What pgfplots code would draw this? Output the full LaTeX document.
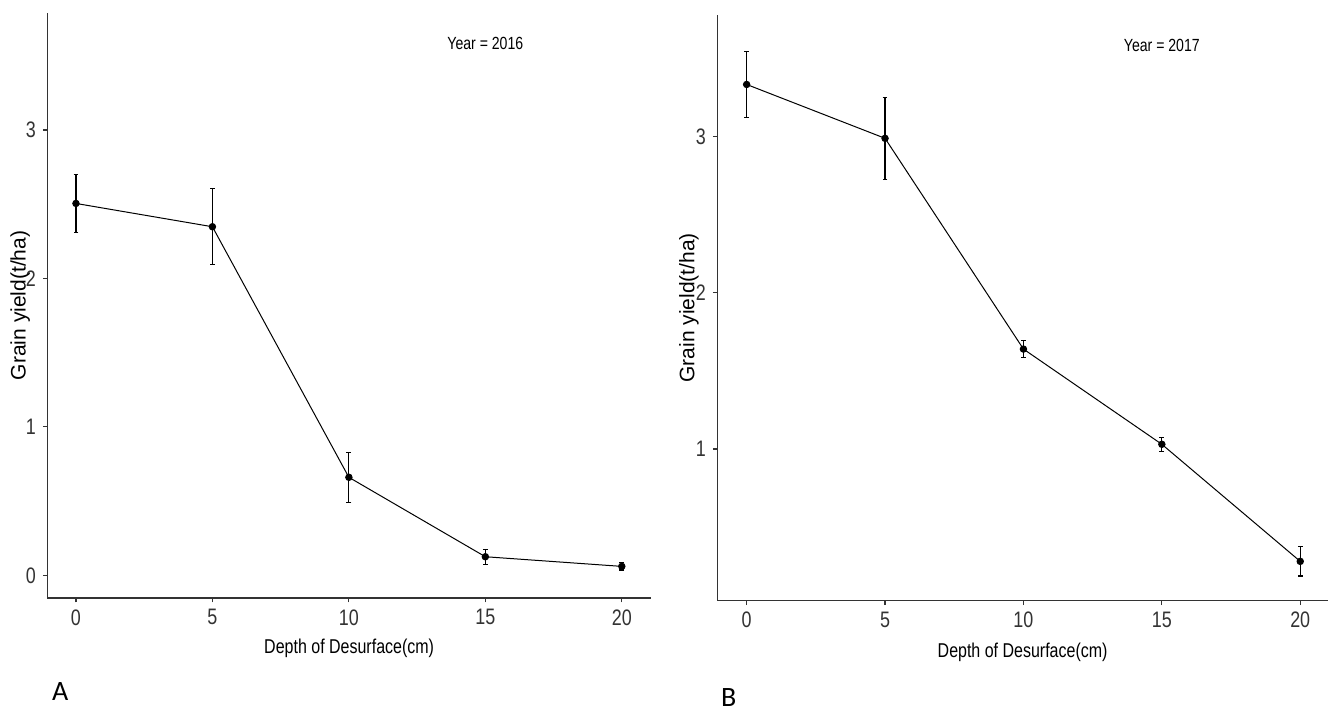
\documentclass[border=0pt]{standalone}
\usepackage{fontspec}
\setmainfont{Liberation Sans}
\newfontfamily\narrowfont[FakeStretch=0.8]{Liberation Sans}
\newfontfamily\panelfont{Carlito}
\usepackage{pgfplots}
\usepackage{pgfplotstable}
\pgfplotsset{compat=1.18}
\definecolor{axgray}{HTML}{333333}
\definecolor{tickgray}{HTML}{333333}

\pgfplotstableread{
x y e
0 2.505 0.197
5 2.348 0.256
10 0.660 0.167
15 0.125 0.050
20 0.060 0.025
}\dataA

\pgfplotstableread{
x y e
0 3.335 0.213
5 2.990 0.262
10 1.640 0.053
15 1.030 0.045
20 0.280 0.094
}\dataB

\pgfplotsset{
  ggstyle/.style={
    scale only axis,
    anchor=south west,
    axis x line*=bottom,
    axis y line*=left,
    axis line style={axgray, line width=0.75pt},
    tick style={axgray, line width=0.6pt},
    tick align=outside,
    major tick length=2.2pt,
    xtick={0,5,10,15,20},
    ytick={0,1,2,3},
    /pgf/number format/assume math mode=true,
    ticklabel style={font=\narrowfont\fontsize{11.2}{11.2}\selectfont, text=tickgray},
    xlabel={Depth of Desurface(cm)},
    ylabel={Grain yield(t/ha)},
    xlabel style={font=\narrowfont\fontsize{10}{10}\selectfont, anchor=center},
    ylabel style={font=\fontsize{10.5}{10.5}\selectfont, anchor=center},
    clip=false,
  },
  ggplot/.style={
    black, line width=0.5pt, mark=*, mark size=1.6pt,
    mark options={solid, fill=black},
    error bars/.cd, y dir=both, y explicit,
    error bar style={line width=0.6pt, black},
    error mark options={rotate=90, mark size=1.2pt, line width=0.6pt, black},
  },
}

\begin{document}
\begin{tikzpicture}
\path[use as bounding box] (0,0) rectangle (665.5pt,356.5pt);

% Panel A
\begin{axis}[ggstyle,
  at={(23.65pt,57.5pt)}, width=301.85pt, height=292.65pt,
  xmin=-1.05, xmax=21.07, ymin=-0.153, ymax=3.79,
  xlabel style={at={(axis description cs:0.5,-0.0854)}},
  ylabel style={at={(axis description cs:-0.0447,0.5)}},
]
\addplot[ggplot] table[x=x, y=y, y error=e] {\dataA};
\node[font=\narrowfont\fontsize{8.8}{8.8}\selectfont] at (axis cs:15,3.585) {Year = 2016};
\end{axis}

% Panel B
\begin{axis}[ggstyle,
  at={(358.65pt,56.15pt)}, width=305.3pt, height=292.85pt,
  xmin=-1.06, xmax=21.0, ymin=0.028, ymax=3.78,
  xlabel style={at={(axis description cs:0.5,-0.0888)}},
  ylabel style={at={(axis description cs:-0.0463,0.5)}},
]
\addplot[ggplot] table[x=x, y=y, y error=e] {\dataB};
\node[font=\narrowfont\fontsize{8.8}{8.8}\selectfont] at (axis cs:15,3.586) {Year = 2017};
\end{axis}

\node[anchor=base west, inner sep=0pt, font=\panelfont\fontsize{14}{14}\selectfont] at (25.85pt,6.5pt) {A};
\node[anchor=base west, inner sep=0pt, font=\panelfont\fontsize{14}{14}\selectfont] at (360.35pt,3.2pt) {B};
\end{tikzpicture}
\end{document}
